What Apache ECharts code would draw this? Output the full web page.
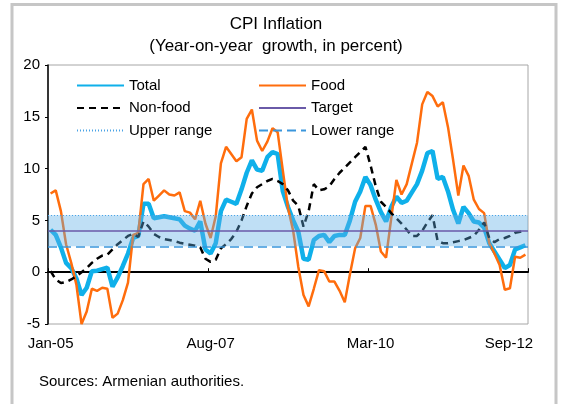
<!DOCTYPE html>
<html>
<head>
<meta charset="utf-8">
<script src="https://cdn.jsdelivr.net/npm/echarts@6/dist/echarts.min.js"></script>
<style>
  html, body { margin: 0; padding: 0; background: #fff; }
  #main { width: 562px; height: 404px; }
</style>
</head>
<body>
<div id="main"></div>
<script>
// monthly categories Jan-05 .. Sep-12
const monthNames = ['Jan', 'Feb', 'Mar', 'Apr', 'May', 'Jun', 'Jul', 'Aug', 'Sep', 'Oct', 'Nov', 'Dec'];
const startYear = 2005;
const monthCount = 93;
const categories = [];
for (let i = 0; i < monthCount; i++) {
  const y = startYear + Math.floor(i / 12);
  categories.push(monthNames[i % 12] + '-' + String(y).slice(2));
}
const shownLabels = ['Jan-05', 'Aug-07', 'Mar-10', 'Sep-12'];
const tickIndexes = [0, 31, 62];

const total = [4.1, 3.6, 2.4, 0.9, 0.4, -0.6, -2.2, -1.5, 0.1, 0.15,
  0.3, 0.45, -1.4, -0.5, 0.6, 1.8, 3.3, 3.5, 6.6, 6.6,
  5.2, 5.3, 5.4, 5.3, 5.2, 5.1, 4.5, 4.2, 4.0, 4.9,
  2.2, 1.8, 2.8, 5.9, 7.0, 6.8, 6.6, 8.0, 9.6, 10.8,
  9.9, 9.8, 11.1, 11.6, 11.4, 7.8, 6.3, 5.0, 3.9, 1.3,
  1.2, 3.1, 3.5, 3.6, 2.9, 3.5, 3.6, 3.6, 5.0, 6.8,
  7.8, 9.2, 8.4, 7.0, 5.8, 4.9, 6.3, 7.3, 6.7, 6.9,
  7.7, 8.5, 9.8, 11.5, 11.7, 9.0, 9.2, 7.8, 6.0, 4.7,
  6.3, 5.7, 4.9, 4.8, 4.3, 2.8, 2.0, 1.2, 0.4, 0.7,
  2.2, 2.4, 2.6];

const food = [7.6, 7.9, 5.9, 2.7, 0.9, -1.2, -5.0, -3.8, -1.6, -1.8,
  -1.5, -1.6, -4.4, -4.0, -2.7, -1.0, 3.6, 3.8, 8.5, 9.0,
  6.9, 7.4, 7.9, 7.5, 7.4, 7.7, 5.9, 5.75, 5.1, 6.9,
  4.7, 3.3, 5.4, 10.5, 12.1, 11.4, 10.7, 11.1, 14.8, 15.7,
  12.7, 11.7, 12.6, 13.9, 13.5, 9.8, 6.2, 4.0, 0.5, -2.2,
  -3.3, -1.6, 0.2, 0.1, -0.9, -0.9, -1.8, -2.9, -0.2, 2.3,
  3.3, 6.4, 6.4, 4.6, 2.0, 1.4, 5.2, 8.9, 7.5, 8.5,
  10.5, 12.5, 16.2, 17.4, 17.0, 16.0, 16.4, 14.0, 10.8, 7.4,
  10.3, 9.3, 7.0, 6.1, 5.7, 2.8, 1.8, 0.7, -1.7, -1.55,
  1.5, 1.4, 1.7];

const nonFood = [0.1, -0.7, -1.05, -0.95, -0.7, -0.4, 0.0, 0.4, 0.9, 1.3,
  1.6, 1.7, 2.2, 2.7, 3.1, 3.5, 3.7, 3.4, 4.9, 4.4,
  3.7, 3.4, 3.2, 3.1, 3.0, 2.85, 2.75, 2.65, 2.55, 2.4,
  1.3, 1.0, 1.2, 2.3, 2.7, 3.2, 3.9, 5.0, 6.4, 7.6,
  8.2, 8.5, 8.8, 9.0, 8.8, 8.5, 7.9, 6.9, 6.4, 4.4,
  5.9, 8.5, 7.9, 8.0, 8.3, 9.0, 9.6, 10.1, 10.6, 11.1,
  11.6, 12.1, 10.3, 8.3, 6.8, 6.3, 5.7, 5.2, 4.7, 4.1,
  3.5, 3.5, 4.0, 4.8, 5.5, 3.0, 2.8, 2.8, 2.9, 3.0,
  3.1, 3.3, 3.5, 4.1, 4.8, 3.3, 2.9, 3.2, 3.3, 3.5,
  3.8, 3.9, 4.0];

const targetLevel = 4;
const upperLevel = 5.5;
const lowerLevel = 2.5;

const font = 'Liberation Sans, Arial, sans-serif';
const noMarkLabel = { show: false };
// legend shows only the line, not a symbol
const legendBase = {
  orient: 'vertical', top: 78, padding: 0,
  itemWidth: 47, itemHeight: 14, itemGap: 7.5,
  selectedMode: false,
  itemStyle: { opacity: 0 },
  textStyle: { fontFamily: font, fontSize: 15, color: '#000' }
};

const myChart = echarts.init(document.getElementById('main'));
const option = {
  animation: false,
  backgroundColor: '#fff',
  graphic: [
    {
      type: 'rect',
      shape: { x: 12, y: 4.5, width: 544, height: 460 },
      style: { fill: 'none', stroke: '#c6c6c6', lineWidth: 3 },
      silent: true
    },
    {
      type: 'text', x: 276, y: 24,
      style: { text: 'CPI Inflation', font: '17px ' + font, fill: '#000', textAlign: 'center', textVerticalAlign: 'middle' }
    },
    {
      type: 'text', x: 276, y: 46,
      style: { text: '(Year-on-year  growth, in percent)', font: '17px ' + font, fill: '#000', textAlign: 'center', textVerticalAlign: 'middle' }
    },
    {
      type: 'text', x: 39, y: 382,
      style: { text: 'Sources: Armenian authorities.', font: '15px ' + font, fill: '#000', textVerticalAlign: 'middle' }
    }
  ],
  legend: [
    Object.assign({ data: ['Total', 'Non-food', 'Upper range'], left: 76 }, legendBase),
    Object.assign({ data: ['Food', 'Target', 'Lower range'], left: 258 }, legendBase)
  ],
  grid: {
    left: 48, right: 34, top: 65, bottom: 80,
    show: true, borderColor: '#a6a6a6', borderWidth: 1
  },
  xAxis: [
    {
      type: 'category',
      data: categories,
      boundaryGap: true,
      position: 'bottom',
      axisLine: { show: false, onZero: false },
      axisTick: { show: false },
      axisLabel: {
        interval: (index, value) => shownLabels.includes(value),
        formatter: (value) => value === 'Sep-12' ? '{last|' + value + '}' : value,
        margin: 12,
        fontFamily: font, fontSize: 15, color: '#000',
        rich: { last: { fontFamily: font, fontSize: 15, color: '#000', padding: [0, 33, 0, 0] } }
      },
      splitLine: { show: false }
    },
    {
      type: 'category',
      data: categories,
      boundaryGap: true,
      position: 'bottom',
      axisLine: { show: true, onZero: true, lineStyle: { color: '#000', width: 2 } },
      axisTick: {
        show: true, inside: true, length: 4,
        interval: (index) => tickIndexes.includes(index),
        lineStyle: { color: '#000', width: 1 }
      },
      axisLabel: { show: false },
      splitLine: { show: false }
    }
  ],
  yAxis: {
    type: 'value',
    min: -5, max: 20, interval: 5,
    axisLine: { show: true, lineStyle: { color: '#000', width: 1.5 } },
    axisTick: { show: true, length: 3, lineStyle: { color: '#000' } },
    axisLabel: { fontFamily: font, fontSize: 15, color: '#000', margin: 8 },
    splitLine: { show: false }
  },
  series: [
    {
      name: 'Total', type: 'line', data: total, symbol: 'none', z: 2,
      color: '#0fb0ea',
      lineStyle: { color: '#0fb0ea', width: 4.5 }
    },
    {
      name: 'Food', type: 'line', data: food, symbol: 'none', z: 2,
      color: '#ff6d0d',
      lineStyle: { color: '#ff6d0d', width: 2.5 }
    },
    {
      name: 'Non-food', type: 'line', data: nonFood, symbol: 'none', z: 2,
      color: '#000',
      lineStyle: { color: '#000', width: 2.5, type: [7, 5] }
    },
    {
      name: 'Target', type: 'line', data: [], symbol: 'none',
      color: '#6a5aa8',
      lineStyle: { color: '#6a5aa8', width: 1.5 },
      markLine: {
        silent: true, symbol: 'none', z: 6, label: noMarkLabel,
        lineStyle: { color: '#6a5aa8', width: 1.5, type: 'solid' },
        data: [{ yAxis: targetLevel }]
      }
    },
    {
      name: 'Upper range', type: 'line', data: [], symbol: 'none',
      color: '#4aa3e6',
      lineStyle: { color: '#4aa3e6', width: 1, type: [1, 2] },
      markLine: {
        silent: true, symbol: 'none', z: 6, label: noMarkLabel,
        lineStyle: { color: '#4aa3e6', width: 1, type: [1, 2] },
        data: [{ yAxis: upperLevel }]
      },
      markArea: {
        silent: true, z: 4, label: noMarkLabel,
        itemStyle: { color: 'rgba(95,175,230,0.4)' },
        data: [[{ yAxis: lowerLevel }, { yAxis: upperLevel }]]
      }
    },
    {
      name: 'Lower range', type: 'line', data: [], symbol: 'none',
      color: '#3a96dc',
      lineStyle: { color: '#3a96dc', width: 1.5, type: [9, 5] },
      markLine: {
        silent: true, symbol: 'none', z: 6, label: noMarkLabel,
        lineStyle: { color: '#3a96dc', width: 1.5, type: [9, 5] },
        data: [{ yAxis: lowerLevel }]
      }
    }
  ]
};
myChart.setOption(option);
</script>
</body>
</html>
